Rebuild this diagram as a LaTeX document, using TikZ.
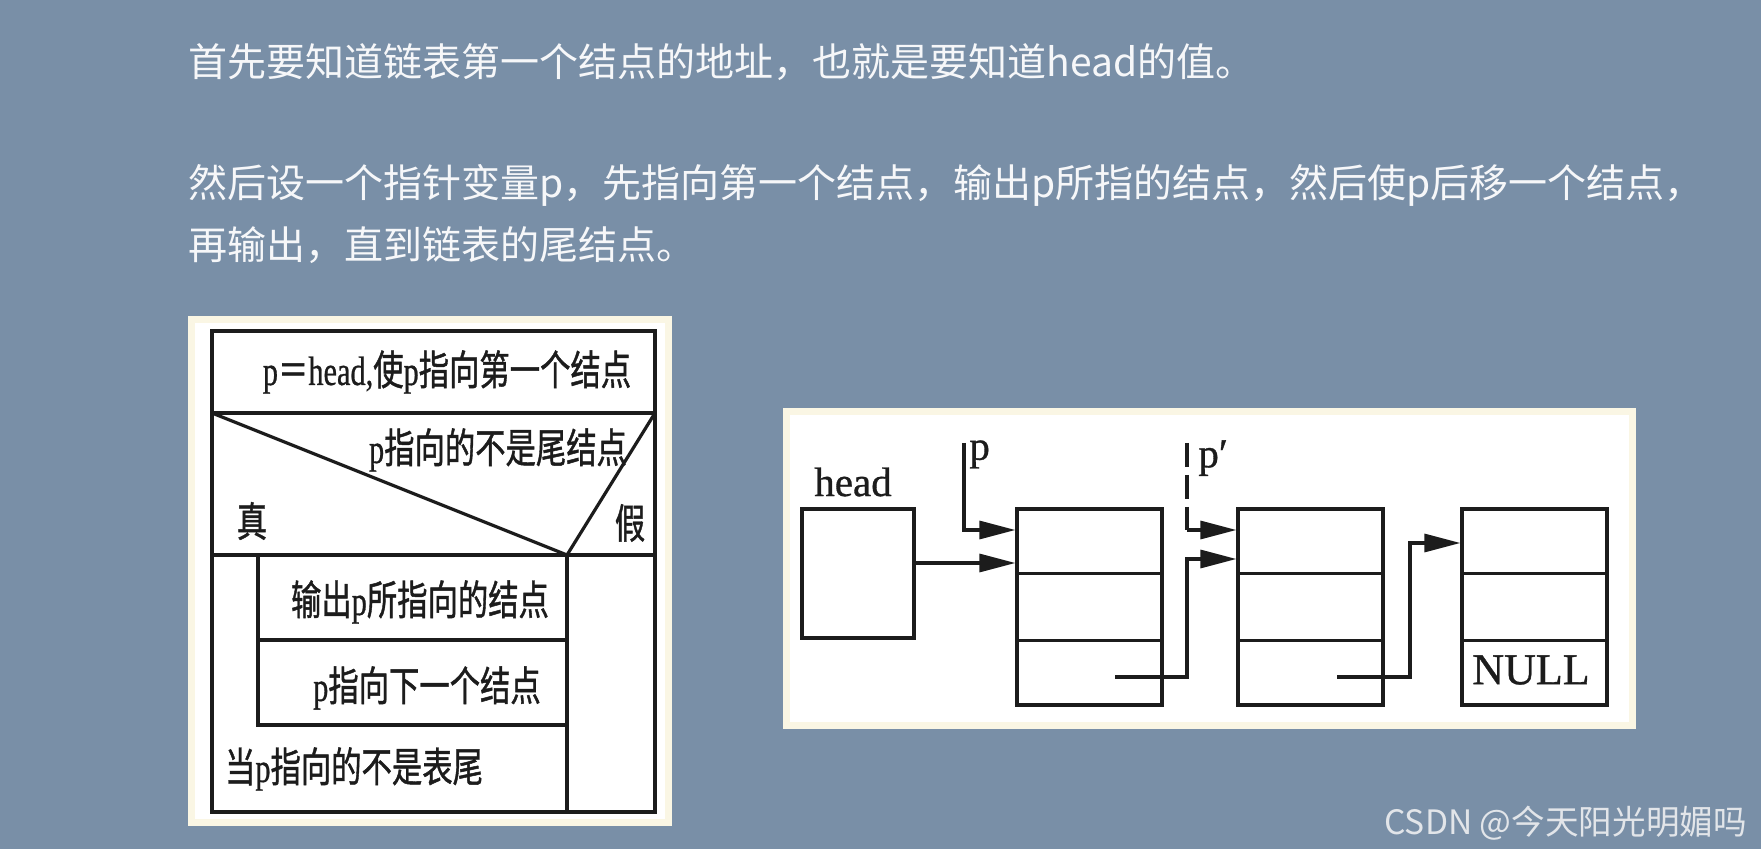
\documentclass[tikz,border=0pt]{standalone}
\usepackage{fontspec}
\usetikzlibrary{arrows.meta,calc}
\setmainfont{Noto Sans CJK SC}
\newfontfamily\cjk{Noto Sans CJK SC}
\newfontfamily\cjkb[FakeBold=1.2]{Noto Sans CJK SC}
\newfontfamily\ser{Liberation Serif}
\newfontfamily\serb[FakeBold=0.8]{Liberation Serif}
\definecolor{bg}{RGB}{121,143,167}
\definecolor{cream}{RGB}{250,246,228}
\definecolor{ink}{RGB}{28,28,28}
\definecolor{txt}{RGB}{246,247,249}
\definecolor{wm}{RGB}{226,229,233}
\newcommand\fctext[1]{\scalebox{0.74}[1]{\fontsize{20.5}{20.5}\selectfont\cjkb #1}}
\tikzset{
  ln/.style={line width=1.6pt, draw=ink},
  arr/.style={ln, -{Triangle[length=18pt,width=9pt]}},
  para/.style={anchor=west, inner sep=0pt, text=txt, font=\cjk\fontsize{19.5}{19.5}\selectfont},
  fc/.style={inner sep=0pt, text=ink},
  lbl/.style={inner sep=0pt, text=ink, font=\serb\fontsize{20.5}{20.5}\selectfont},
  cell/.style={ln, rectangle, inner sep=0pt, fill=white},
}
\begin{document}
\begin{tikzpicture}[x=0.5pt,y=-0.5pt]
\fill[bg] (0,0) rectangle (1761,849);
\useasboundingbox (0,0) rectangle (1761,849);

% paragraph text
\node[para] (l1) at (188,62) {首先要知道链表第一个结点的地址，也就是要知道head的值。};
\node[para] (l2) at (188,185) {然后设一个指针变量p，先指向第一个结点，输出p所指的结点，然后使p后移一个结点，};
\node[para] (l3) at (188,245) {再输出，直到链表的尾结点。};

% ---------------- left panel: N-S flowchart ----------------
\fill[cream] (188,316) rectangle (672,826);
\fill[white] (195,323) rectangle (665,819);
\coordinate (a) at (212,331);
\coordinate (b) at (655,812);
\draw[ln] (a) rectangle (b);
\coordinate (r1l) at (212,413); \coordinate (r1r) at (655,413);
\coordinate (r2l) at (212,555); \coordinate (r2r) at (655,555);
\coordinate (vx) at (567,555);
\draw[ln] (r1l) -- (r1r);
\draw[ln] (r2l) -- (r2r);
\draw[ln] (r1l) -- (vx) -- (r1r);
\draw[ln] (vx) -- (567,812);
\draw[ln] (258,555) -- (258,725) -- (567,725);
\draw[ln] (258,640) -- (567,640);

\node[fc] (t1) at (447,372) {\fctext{{\serb p}＝{\serb head,}使{\serb p}指向第一个结点}};
\node[fc] (t2) at (498,450) {\fctext{{\serb p}指向的不是尾结点}};
\node[fc] (tz) at (252,521) {\fctext{真}};
\node[fc] (tj) at (630,523) {\fctext{假}};
\node[fc] (t3) at (420,602) {\fctext{输出{\serb p}所指向的结点}};
\node[fc] (t4) at (427,688) {\fctext{{\serb p}指向下一个结点}};
\node[fc] (t5) at (354,769) {\fctext{当{\serb p}指向的不是表尾}};

% ---------------- right panel: linked list ----------------
\fill[cream] (783,408) rectangle (1636,729);
\fill[white] (790,415) rectangle (1629,722);

\node[cell, minimum width=56pt, minimum height=64.5pt] (hd) at (858,573.5) {};
\node[lbl] (hl) at (853,482) {head};
\node[cell, minimum width=72.5pt, minimum height=98pt] (n1) at (1089.5,607) {};
\node[cell, minimum width=72.5pt, minimum height=98pt] (n2) at (1310.5,607) {};
\node[cell, minimum width=72.5pt, minimum height=98pt] (n3) at (1534.5,607) {};
\foreach \n in {n1,n2,n3}{
  \draw[ln] ($(\n.north west)!1/3!(\n.south west)$) -- ($(\n.north east)!1/3!(\n.south east)$);
  \draw[ln] ($(\n.north west)!2/3!(\n.south west)$) -- ($(\n.north east)!2/3!(\n.south east)$);
}
\node[lbl, font=\serb\fontsize{22}{22}\selectfont] (nl) at (1531,670) {NULL};

\node[lbl, anchor=north west] (pl) at (969,440) {p};
\node[lbl, anchor=north west] (ppl) at (1198,440) {p′};

\coordinate (pt) at (964,443);
\coordinate (pb) at (964,530);
\draw[arr] (pt) -- (pb) -- (pb -| n1.west);

\coordinate (hs) at (914,563);
\draw[arr] (hd.east |- hs) -- (hs -| n1.west);

\coordinate (qt) at (1187,443);
\coordinate (qb) at (1187,530);
\draw[ln, dash pattern=on 12pt off 4pt] (qt) -- (qb);
\draw[arr] (qb) -- (qb -| n2.west);

\coordinate (k1s) at (1115,677);
\coordinate (k1c) at (1187,677);
\coordinate (k1u) at (1187,559);
\draw[arr] (k1s) -- (k1c) -- (k1u) -- (k1u -| n2.west);

\coordinate (k2s) at (1337,677);
\coordinate (k2c) at (1410,677);
\coordinate (k2u) at (1410,543);
\draw[arr] (k2s) -- (k2c) -- (k2u) -- (k2u -| n3.west);

% watermark
\node[anchor=west, inner sep=0pt, text=wm, font=\cjk\fontsize{16.8}{16.8}\selectfont] (wmk) at (1384,823) {CSDN @今天阳光明媚吗};
\end{tikzpicture}
\end{document}
